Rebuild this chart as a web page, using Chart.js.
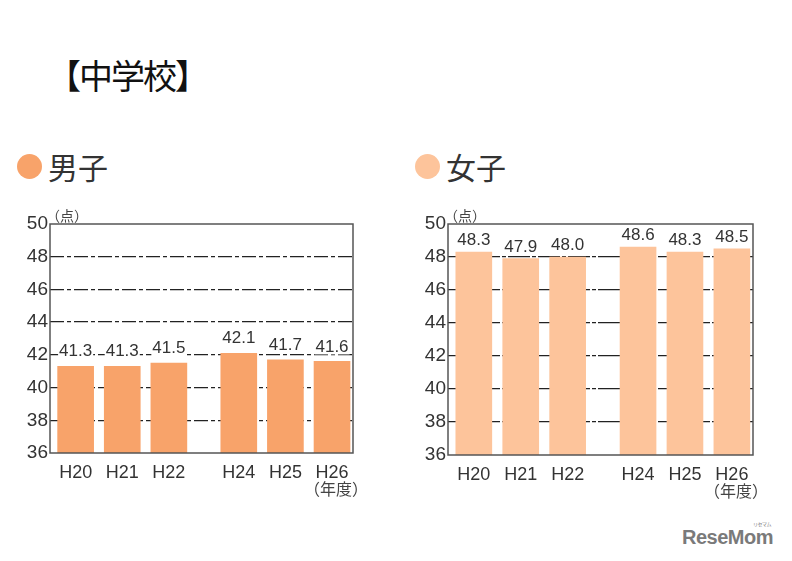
<!DOCTYPE html>
<html>
<head>
<meta charset="utf-8">
<script src="https://cdn.jsdelivr.net/npm/chart.js@4.4.1/dist/chart.umd.min.js"></script>
<style>
    body { margin: 0; background: #fff; width: 792px; height: 561px; position: relative; overflow: hidden; }
    .jp { font-family: "Noto Sans CJK JP", sans-serif; position: absolute; white-space: nowrap; }
    #title { left: 47px; top: 52px; font-size: 34px; color: #111; line-height: 46px; letter-spacing: -2px; }
    .legend { top: 146px; font-size: 30px; color: #333; line-height: 40px; }
    .dot { position: absolute; width: 25px; height: 25px; border-radius: 50%; top: 154px; }
    .box { position: absolute; top: 205px; width: 370px; height: 295px; }
    #logo { position: absolute; left: 682px; top: 526px; font-family: "Liberation Sans", Arial, sans-serif; font-weight: bold; font-size: 20px; color: #7a7a7a; letter-spacing: -0.5px; }
    #logo small { position: absolute; right: 2px; top: -6px; font-size: 5px; font-family: "Noto Sans CJK JP"; font-weight: normal; }
</style>
</head>
<body>
<div id="title" class="jp">【中学校】</div>
<div class="dot" style="left:17px; background:#f8a36a;"></div>
<div class="jp legend" style="left:48px;">男子</div>
<div class="dot" style="left:415px; background:#fdc49b;"></div>
<div class="jp legend" style="left:446px;">女子</div>
<div class="box" style="left:0px;"><canvas id="boys"></canvas></div>
<div class="box" style="left:398px;"><canvas id="girls"></canvas></div>
<div id="logo">ReseMom<small>リセマム</small></div>

<script>
// 年度 (H23 was not surveyed, so it leaves a gap)
var years = ["H20", "H21", "H22", "H24", "H25", "H26"];
var yearPos = [0, 1, 2, 3.5, 4.5, 5.5];
var boysScores = [41.3, 41.3, 41.5, 42.1, 41.7, 41.6];
var girlsScores = [48.3, 47.9, 48.0, 48.6, 48.3, 48.5];
var yTicks = [36, 38, 40, 42, 44, 46, 48, 50];

var numFont = "Liberation Sans, Arial, sans-serif";

var extras = {
    id: "extras",
    afterDatasetsDraw: function (chart) {
        var ctx = chart.ctx;
        var a = chart.chartArea;
        var ds = chart.data.datasets[0];
        var lift = chart.canvas.id === "boys" ? 6 : 3;
        ctx.save();
        // value labels, on a white patch so the grid does not run through them
        ctx.font = "17px " + numFont;
        ctx.textAlign = "center";
        ctx.textBaseline = "bottom";
        chart.getDatasetMeta(0).data.forEach(function (bar, i) {
            var s = ds.data[i].y.toFixed(1);
            var w = ctx.measureText(s).width;
            var by = bar.y - lift;
            ctx.fillStyle = "#fff";
            ctx.fillRect(bar.x - w / 2 - 1, by - 15, w + 2, 14);
            ctx.fillStyle = "#333";
            ctx.fillText(s, bar.x, by);
        });
        // frame
        ctx.strokeStyle = "#555";
        ctx.lineWidth = 1.5;
        ctx.strokeRect(a.left, a.top, a.right - a.left, a.bottom - a.top);
        // units
        ctx.fillStyle = "#444";
        ctx.font = "14px 'Noto Sans CJK JP'";
        ctx.textAlign = "left";
        ctx.textBaseline = "bottom";
        ctx.fillText("（点）", a.left - 4, a.top - 1);
        var xs = chart.scales.x;
        ctx.font = "16px 'Noto Sans CJK JP'";
        ctx.textAlign = "center";
        ctx.textBaseline = "middle";
        ctx.fillText("（年度）", xs.getPixelForValue(5.5) + 4, a.bottom + 36);
        ctx.restore();
    }
};

function makeChart(id, scores, color, dash, right, xh) {
    var pts = scores.map(function (v, i) { return { x: yearPos[i], y: v }; });
    return new Chart(document.getElementById(id), {
        type: "bar",
        data: {
            datasets: [{
                data: pts,
                backgroundColor: color,
                barThickness: 36
            }]
        },
        options: {
            responsive: true,
            maintainAspectRatio: false,
            animation: false,
            layout: { padding: { top: 19, right: right, left: 0, bottom: 0 } },
            plugins: { legend: { display: false }, tooltip: { enabled: false } },
            scales: {
                x: {
                    type: "linear",
                    min: -0.55,
                    max: 5.95,
                    offset: false,
                    grid: { display: false },
                    border: { display: false },
                    afterBuildTicks: function (scale) {
                        scale.ticks = yearPos.map(function (v) { return { value: v }; });
                    },
                    afterFit: function (scale) { scale.height = xh; },
                    ticks: {
                        autoSkip: false,
                        maxRotation: 0,
                        padding: 1,
                        color: "#333",
                        font: { size: 18, family: numFont },
                        callback: function (v, i) { return years[i]; }
                    }
                },
                y: {
                    min: 36,
                    max: 50,
                    afterBuildTicks: function (scale) {
                        scale.ticks = yTicks.map(function (v) { return { value: v }; });
                    },
                    afterFit: function (scale) { scale.width = 50; },
                    border: { display: false, dash: dash },
                    grid: {
                        drawTicks: false,
                        lineWidth: 1.3,
                        color: function (c) {
                            var v = c.tick.value;
                            return (v === 36 || v === 50) ? "rgba(0,0,0,0)" : "#222";
                        }
                    },
                    ticks: {
                        padding: 2,
                        color: "#333",
                        font: { size: 19, family: numFont }
                    }
                }
            }
        },
        plugins: [extras]
    });
}

makeChart("boys", boysScores, "#f8a36a", [14, 3, 4, 3], 17, 47);
makeChart("girls", girlsScores, "#fdc49b", [22, 2, 4, 2], 15, 45);
</script>
</body>
</html>
